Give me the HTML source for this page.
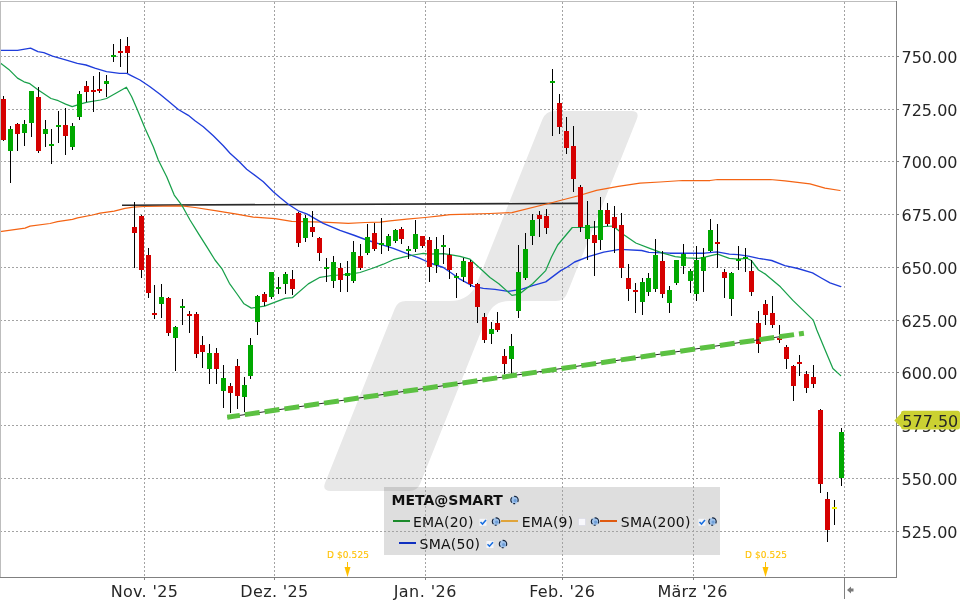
<!DOCTYPE html>
<html><head><meta charset="utf-8"><title>META@SMART</title>
<style>
html,body{margin:0;padding:0;background:#fff;width:960px;height:600px;overflow:hidden}
svg{display:block;will-change:transform}
.ax{font-family:"DejaVu Sans","Liberation Sans",sans-serif;font-size:16px;fill:#262626}
.lg{font-family:"DejaVu Sans","Liberation Sans",sans-serif;font-size:14px;fill:#111;letter-spacing:0.2px}
.lgb{font-family:"DejaVu Sans","Liberation Sans",sans-serif;font-size:14px;font-weight:bold;fill:#111}
.dv{font-family:"DejaVu Sans",sans-serif;font-size:9px;fill:#ffc000;stroke:#ffc000;stroke-width:0.1px;letter-spacing:0.12px}
</style></head><body>
<svg width="960" height="600" viewBox="0 0 960 600">
<rect x="0" y="0" width="960" height="600" fill="#fff"/>

<path d="M330.80 491.00 Q321.80 491.00 325.14 482.64 L394.83 308.43 Q397.80 301.00 405.80 301.00 L449.80 301.00 Q469.80 301.00 477.23 282.43 L542.46 119.36 Q545.80 111.00 554.80 111.00 L631.10 111.00 Q640.10 111.00 636.76 119.36 L567.07 293.57 Q564.10 301.00 556.10 301.00 L509.30 301.00 Q493.30 301.00 487.36 315.86 L420.27 483.57 Q417.30 491.00 409.30 491.00 Z" fill="#e8e8e8"/>
<rect x="384" y="487" width="336" height="68" fill="#000" fill-opacity="0.129"/>
<line x1="0" y1="56.5" x2="896" y2="56.5" stroke="#a3a3a3" stroke-width="1" stroke-dasharray="2 2"/>
<line x1="0" y1="109.5" x2="896" y2="109.5" stroke="#a3a3a3" stroke-width="1" stroke-dasharray="2 2"/>
<line x1="0" y1="161.5" x2="896" y2="161.5" stroke="#a3a3a3" stroke-width="1" stroke-dasharray="2 2"/>
<line x1="0" y1="214.5" x2="896" y2="214.5" stroke="#a3a3a3" stroke-width="1" stroke-dasharray="2 2"/>
<line x1="0" y1="267.5" x2="896" y2="267.5" stroke="#a3a3a3" stroke-width="1" stroke-dasharray="2 2"/>
<line x1="0" y1="320.5" x2="896" y2="320.5" stroke="#a3a3a3" stroke-width="1" stroke-dasharray="2 2"/>
<line x1="0" y1="372.5" x2="896" y2="372.5" stroke="#a3a3a3" stroke-width="1" stroke-dasharray="2 2"/>
<line x1="0" y1="425.5" x2="896" y2="425.5" stroke="#a3a3a3" stroke-width="1" stroke-dasharray="2 2"/>
<line x1="0" y1="478.5" x2="896" y2="478.5" stroke="#a3a3a3" stroke-width="1" stroke-dasharray="2 2"/>
<line x1="0" y1="531.5" x2="896" y2="531.5" stroke="#a3a3a3" stroke-width="1" stroke-dasharray="2 2"/>
<line x1="144.5" y1="2" x2="144.5" y2="577" stroke="#a3a3a3" stroke-width="1" stroke-dasharray="2 2"/>
<line x1="274.5" y1="2" x2="274.5" y2="577" stroke="#a3a3a3" stroke-width="1" stroke-dasharray="2 2"/>
<line x1="425.5" y1="2" x2="425.5" y2="577" stroke="#a3a3a3" stroke-width="1" stroke-dasharray="2 2"/>
<line x1="562.5" y1="2" x2="562.5" y2="577" stroke="#a3a3a3" stroke-width="1" stroke-dasharray="2 2"/>
<line x1="693.5" y1="2" x2="693.5" y2="577" stroke="#a3a3a3" stroke-width="1" stroke-dasharray="2 2"/>
<line x1="844.5" y1="2" x2="844.5" y2="577" stroke="#a3a3a3" stroke-width="1" stroke-dasharray="2 2"/>
<line x1="122" y1="205.2" x2="578" y2="203.4" stroke="#2a2a2a" stroke-width="1.6"/>
<polyline points="0.0,231.6 25.0,228.1 30.0,226.2 50.0,223.5 57.5,221.6 72.5,219.4 77.5,217.8 92.5,215.0 100.0,213.1 114.2,211.2 125.0,208.3 133.3,207.1 144.2,206.5 181.7,205.8 195.0,207.5 216.7,210.8 236.7,214.2 253.3,217.2 275.0,218.7 291.7,221.3 323.3,222.2 348.3,223.3 365.0,222.5 380.0,222.2 390.0,220.8 406.7,219.2 425.0,217.5 440.0,215.8 450.0,214.7 470.0,214.2 490.0,213.5 511.9,212.6 552.5,202.5 577.5,196.0 596.5,190.4 618.3,186.4 640.0,183.2 660.0,182.0 682.5,180.5 710.0,180.5 717.5,179.5 770.0,179.5 785.0,180.8 810.0,183.8 825.0,188.2 840.0,190.5" fill="none" stroke="#f46414" stroke-width="1.25" stroke-linejoin="round" stroke-linecap="round"/>
<polyline points="0.0,50.4 17.5,50.4 30.6,48.2 37.9,51.6 43.8,52.6 52.5,56.2 65.6,59.9 77.3,63.3 86.0,65.0 94.8,68.2 106.5,71.6 119.6,73.3 126.9,73.3 131.7,75.8 140.0,80.0 150.0,86.7 160.0,94.2 170.0,102.5 178.3,109.5 188.3,115.3 195.0,120.8 203.3,126.7 213.3,135.8 223.3,145.8 230.0,153.3 238.3,160.8 246.7,169.2 250.0,171.7 263.3,181.7 273.3,191.7 280.0,197.5 288.3,204.2 298.3,210.8 306.7,213.8 323.3,223.3 340.0,230.3 353.3,235.0 366.7,240.0 380.0,244.2 393.3,248.3 408.3,254.2 420.0,258.3 430.0,263.0 443.3,267.5 451.7,273.3 460.0,279.2 473.3,286.3 483.3,288.3 495.0,289.4 508.2,291.3 521.3,289.4 532.6,285.6 545.7,281.9 560.7,270.6 567.3,267.0 574.6,262.0 589.2,256.3 603.7,252.2 619.8,249.4 641.7,250.5 649.0,252.4 670.0,253.2 690.0,253.2 704.6,253.2 717.0,251.8 729.4,254.2 738.1,254.7 748.3,256.1 758.5,258.3 771.7,260.5 784.8,265.6 797.9,268.5 812.5,272.9 821.3,278.0 830.0,282.8 840.8,286.6" fill="none" stroke="#1f3ddb" stroke-width="1.35" stroke-linejoin="round" stroke-linecap="round"/>
<polyline points="0.0,62.8 8.8,69.4 17.5,78.1 24.0,81.8 29.9,83.7 37.9,89.8 51.0,98.5 58.3,100.7 65.6,104.1 72.2,106.6 81.7,103.6 87.5,102.2 100.6,100.0 106.5,98.5 116.7,92.7 126.4,87.2 131.7,96.7 136.7,108.3 145.0,128.3 153.3,146.7 158.3,160.0 166.7,176.7 174.2,195.0 181.7,205.0 190.0,220.0 198.3,233.3 206.7,246.7 215.0,260.0 222.0,268.8 229.4,283.3 236.7,293.5 244.0,303.8 251.3,308.1 264.6,306.2 285.0,298.4 292.3,297.7 308.3,283.9 320.0,277.3 331.7,275.5 340.0,275.0 350.0,274.2 360.0,272.5 373.3,268.0 383.3,264.2 393.3,259.7 403.3,257.2 413.3,255.0 423.3,253.3 428.3,254.2 443.3,253.7 450.0,254.7 460.0,256.3 470.0,259.2 480.0,268.3 490.0,277.5 498.8,283.8 511.9,295.4 519.4,294.1 532.6,283.8 545.7,270.6 551.5,257.0 557.7,245.0 572.3,227.5 590.0,227.3 613.0,226.0 624.2,235.0 635.8,243.0 650.4,248.6 662.0,252.8 675.2,256.6 686.9,257.8 698.8,258.3 706.0,256.9 711.9,255.4 717.7,254.2 729.4,258.3 738.1,259.1 746.9,258.3 751.3,260.5 758.5,270.0 765.8,274.4 780.4,286.8 792.9,300.4 813.3,320.1 816.8,330.0 824.6,348.8 832.9,368.5 840.7,375.6" fill="none" stroke="#18a04a" stroke-width="1.25" stroke-linejoin="round" stroke-linecap="round"/>
<rect x="3" y="96" width="1" height="45" fill="#000"/>
<rect x="1" y="99" width="5" height="41" fill="#d50000"/>
<rect x="10" y="126" width="1" height="57" fill="#000"/>
<rect x="8" y="129" width="5" height="22" fill="#00a800"/>
<rect x="17" y="123" width="1" height="28" fill="#000"/>
<rect x="15" y="124" width="5" height="10" fill="#d50000"/>
<rect x="24" y="120" width="1" height="26" fill="#000"/>
<rect x="22" y="124" width="5" height="9" fill="#00a800"/>
<rect x="31" y="91" width="1" height="46" fill="#000"/>
<rect x="29" y="91" width="5" height="32" fill="#00a800"/>
<rect x="38" y="87" width="1" height="66" fill="#000"/>
<rect x="36" y="97" width="5" height="54" fill="#d50000"/>
<rect x="45" y="120" width="1" height="27" fill="#000"/>
<rect x="43" y="129" width="5" height="5" fill="#00a800"/>
<rect x="51" y="129" width="1" height="35" fill="#000"/>
<rect x="49" y="144" width="5" height="2" fill="#00a800"/>
<rect x="58" y="111" width="1" height="32" fill="#000"/>
<rect x="56" y="125" width="5" height="2" fill="#00a800"/>
<rect x="65" y="108" width="1" height="47" fill="#000"/>
<rect x="63" y="125" width="5" height="11" fill="#d50000"/>
<rect x="72" y="123" width="1" height="27" fill="#000"/>
<rect x="70" y="126" width="5" height="21" fill="#00a800"/>
<rect x="79" y="91" width="1" height="29" fill="#000"/>
<rect x="77" y="94" width="5" height="23" fill="#00a800"/>
<rect x="86" y="81" width="1" height="21" fill="#000"/>
<rect x="84" y="86" width="5" height="6" fill="#d50000"/>
<rect x="93" y="76" width="1" height="36" fill="#000"/>
<rect x="91" y="90" width="5" height="2" fill="#d50000"/>
<rect x="99" y="72" width="1" height="21" fill="#000"/>
<rect x="97" y="89" width="5" height="2" fill="#d50000"/>
<rect x="106" y="75" width="1" height="22" fill="#000"/>
<rect x="104" y="81" width="5" height="3" fill="#00a800"/>
<rect x="113" y="44" width="1" height="18" fill="#000"/>
<rect x="111" y="55" width="5" height="2" fill="#00a800"/>
<rect x="120" y="39" width="1" height="28" fill="#000"/>
<rect x="118" y="51" width="5" height="2" fill="#d50000"/>
<rect x="127" y="37" width="1" height="36" fill="#000"/>
<rect x="125" y="46" width="5" height="7" fill="#d50000"/>
<rect x="134" y="202" width="1" height="66" fill="#000"/>
<rect x="132" y="227" width="5" height="6" fill="#d50000"/>
<rect x="141" y="215" width="1" height="63" fill="#000"/>
<rect x="139" y="216" width="5" height="54" fill="#d50000"/>
<rect x="148" y="248" width="1" height="50" fill="#000"/>
<rect x="146" y="255" width="5" height="38" fill="#d50000"/>
<rect x="154" y="285" width="1" height="34" fill="#000"/>
<rect x="152" y="313" width="5" height="2" fill="#d50000"/>
<rect x="161" y="284" width="1" height="34" fill="#000"/>
<rect x="159" y="297" width="5" height="7" fill="#00a800"/>
<rect x="168" y="297" width="1" height="39" fill="#000"/>
<rect x="166" y="298" width="5" height="35" fill="#d50000"/>
<rect x="175" y="326" width="1" height="45" fill="#000"/>
<rect x="173" y="327" width="5" height="11" fill="#00a800"/>
<rect x="182" y="299" width="1" height="26" fill="#000"/>
<rect x="180" y="306" width="5" height="2" fill="#00a800"/>
<rect x="189" y="311" width="1" height="22" fill="#000"/>
<rect x="187" y="314" width="5" height="2" fill="#d50000"/>
<rect x="196" y="312" width="1" height="46" fill="#000"/>
<rect x="194" y="314" width="5" height="40" fill="#d50000"/>
<rect x="202" y="336" width="1" height="32" fill="#000"/>
<rect x="200" y="345" width="5" height="7" fill="#d50000"/>
<rect x="209" y="344" width="1" height="40" fill="#000"/>
<rect x="207" y="353" width="5" height="16" fill="#00a800"/>
<rect x="216" y="348" width="1" height="36" fill="#000"/>
<rect x="214" y="353" width="5" height="16" fill="#d50000"/>
<rect x="223" y="365" width="1" height="43" fill="#000"/>
<rect x="221" y="378" width="5" height="13" fill="#00a800"/>
<rect x="230" y="383" width="1" height="30" fill="#000"/>
<rect x="228" y="386" width="5" height="7" fill="#d50000"/>
<rect x="237" y="359" width="1" height="50" fill="#000"/>
<rect x="235" y="366" width="5" height="30" fill="#d50000"/>
<rect x="244" y="377" width="1" height="35" fill="#000"/>
<rect x="242" y="385" width="5" height="12" fill="#00a800"/>
<rect x="250" y="338" width="1" height="41" fill="#000"/>
<rect x="248" y="345" width="5" height="31" fill="#00a800"/>
<rect x="257" y="295" width="1" height="40" fill="#000"/>
<rect x="255" y="296" width="5" height="26" fill="#00a800"/>
<rect x="264" y="292" width="1" height="14" fill="#000"/>
<rect x="262" y="294" width="5" height="8" fill="#d50000"/>
<rect x="271" y="272" width="1" height="27" fill="#000"/>
<rect x="269" y="272" width="5" height="25" fill="#00a800"/>
<rect x="278" y="277" width="1" height="17" fill="#000"/>
<rect x="276" y="287" width="5" height="2" fill="#00a800"/>
<rect x="285" y="272" width="1" height="22" fill="#000"/>
<rect x="283" y="274" width="5" height="10" fill="#00a800"/>
<rect x="292" y="270" width="1" height="25" fill="#000"/>
<rect x="290" y="279" width="5" height="10" fill="#d50000"/>
<rect x="298" y="212" width="1" height="35" fill="#000"/>
<rect x="296" y="213" width="5" height="30" fill="#d50000"/>
<rect x="305" y="215" width="1" height="27" fill="#000"/>
<rect x="303" y="218" width="5" height="20" fill="#00a800"/>
<rect x="312" y="211" width="1" height="26" fill="#000"/>
<rect x="310" y="227" width="5" height="5" fill="#d50000"/>
<rect x="319" y="237" width="1" height="24" fill="#000"/>
<rect x="317" y="238" width="5" height="15" fill="#d50000"/>
<rect x="326" y="258" width="1" height="24" fill="#000"/>
<rect x="324" y="267" width="5" height="2" fill="#00a800"/>
<rect x="333" y="256" width="1" height="32" fill="#000"/>
<rect x="331" y="262" width="5" height="19" fill="#00a800"/>
<rect x="340" y="263" width="1" height="29" fill="#000"/>
<rect x="338" y="268" width="5" height="12" fill="#d50000"/>
<rect x="347" y="261" width="1" height="31" fill="#000"/>
<rect x="345" y="273" width="5" height="3" fill="#00a800"/>
<rect x="353" y="241" width="1" height="42" fill="#000"/>
<rect x="351" y="252" width="5" height="29" fill="#00a800"/>
<rect x="360" y="244" width="1" height="26" fill="#000"/>
<rect x="358" y="256" width="5" height="12" fill="#d50000"/>
<rect x="367" y="224" width="1" height="31" fill="#000"/>
<rect x="365" y="237" width="5" height="16" fill="#00a800"/>
<rect x="374" y="223" width="1" height="28" fill="#000"/>
<rect x="372" y="233" width="5" height="16" fill="#d50000"/>
<rect x="381" y="218" width="1" height="36" fill="#000"/>
<rect x="379" y="243" width="5" height="2" fill="#00a800"/>
<rect x="388" y="234" width="1" height="17" fill="#000"/>
<rect x="386" y="236" width="5" height="10" fill="#00a800"/>
<rect x="395" y="229" width="1" height="14" fill="#000"/>
<rect x="393" y="230" width="5" height="11" fill="#00a800"/>
<rect x="401" y="227" width="1" height="17" fill="#000"/>
<rect x="399" y="229" width="5" height="10" fill="#d50000"/>
<rect x="408" y="246" width="1" height="13" fill="#000"/>
<rect x="406" y="249" width="5" height="2" fill="#00a800"/>
<rect x="415" y="220" width="1" height="32" fill="#000"/>
<rect x="413" y="234" width="5" height="15" fill="#00a800"/>
<rect x="422" y="236" width="1" height="12" fill="#000"/>
<rect x="420" y="236" width="5" height="10" fill="#d50000"/>
<rect x="429" y="237" width="1" height="45" fill="#000"/>
<rect x="427" y="240" width="5" height="27" fill="#d50000"/>
<rect x="436" y="237" width="1" height="36" fill="#000"/>
<rect x="434" y="249" width="5" height="16" fill="#00a800"/>
<rect x="443" y="235" width="1" height="29" fill="#000"/>
<rect x="441" y="245" width="5" height="2" fill="#00a800"/>
<rect x="449" y="248" width="1" height="31" fill="#000"/>
<rect x="447" y="255" width="5" height="15" fill="#d50000"/>
<rect x="456" y="273" width="1" height="25" fill="#000"/>
<rect x="454" y="276" width="5" height="2" fill="#00a800"/>
<rect x="463" y="258" width="1" height="24" fill="#000"/>
<rect x="461" y="261" width="5" height="16" fill="#00a800"/>
<rect x="470" y="260" width="1" height="27" fill="#000"/>
<rect x="468" y="262" width="5" height="22" fill="#d50000"/>
<rect x="477" y="283" width="1" height="40" fill="#000"/>
<rect x="475" y="284" width="5" height="23" fill="#d50000"/>
<rect x="484" y="313" width="1" height="30" fill="#000"/>
<rect x="482" y="317" width="5" height="23" fill="#d50000"/>
<rect x="491" y="322" width="1" height="22" fill="#000"/>
<rect x="489" y="329" width="5" height="5" fill="#00a800"/>
<rect x="497" y="312" width="1" height="20" fill="#000"/>
<rect x="495" y="323" width="5" height="7" fill="#d50000"/>
<rect x="504" y="349" width="1" height="25" fill="#000"/>
<rect x="502" y="356" width="5" height="8" fill="#d50000"/>
<rect x="511" y="334" width="1" height="40" fill="#000"/>
<rect x="509" y="346" width="5" height="13" fill="#00a800"/>
<rect x="518" y="245" width="1" height="73" fill="#000"/>
<rect x="516" y="272" width="5" height="39" fill="#00a800"/>
<rect x="525" y="233" width="1" height="47" fill="#000"/>
<rect x="523" y="249" width="5" height="29" fill="#00a800"/>
<rect x="532" y="214" width="1" height="31" fill="#000"/>
<rect x="530" y="220" width="5" height="16" fill="#00a800"/>
<rect x="539" y="211" width="1" height="26" fill="#000"/>
<rect x="537" y="215" width="5" height="4" fill="#d50000"/>
<rect x="546" y="209" width="1" height="25" fill="#000"/>
<rect x="544" y="216" width="5" height="12" fill="#d50000"/>
<rect x="552" y="69" width="1" height="67" fill="#000"/>
<rect x="550" y="81" width="5" height="2" fill="#00a800"/>
<rect x="559" y="94" width="1" height="40" fill="#000"/>
<rect x="557" y="103" width="5" height="24" fill="#d50000"/>
<rect x="566" y="117" width="1" height="37" fill="#000"/>
<rect x="564" y="131" width="5" height="17" fill="#d50000"/>
<rect x="573" y="126" width="1" height="66" fill="#000"/>
<rect x="571" y="146" width="5" height="33" fill="#d50000"/>
<rect x="580" y="185" width="1" height="47" fill="#000"/>
<rect x="578" y="187" width="5" height="40" fill="#d50000"/>
<rect x="587" y="201" width="1" height="59" fill="#000"/>
<rect x="585" y="225" width="5" height="14" fill="#00a800"/>
<rect x="594" y="221" width="1" height="55" fill="#000"/>
<rect x="592" y="235" width="5" height="8" fill="#d50000"/>
<rect x="600" y="197" width="1" height="53" fill="#000"/>
<rect x="598" y="210" width="5" height="30" fill="#00a800"/>
<rect x="607" y="203" width="1" height="23" fill="#000"/>
<rect x="605" y="210" width="5" height="14" fill="#d50000"/>
<rect x="614" y="206" width="1" height="47" fill="#000"/>
<rect x="612" y="217" width="5" height="11" fill="#d50000"/>
<rect x="621" y="213" width="1" height="65" fill="#000"/>
<rect x="619" y="225" width="5" height="43" fill="#d50000"/>
<rect x="628" y="264" width="1" height="37" fill="#000"/>
<rect x="626" y="278" width="5" height="11" fill="#d50000"/>
<rect x="635" y="283" width="1" height="30" fill="#000"/>
<rect x="633" y="290" width="5" height="2" fill="#d50000"/>
<rect x="642" y="278" width="1" height="37" fill="#000"/>
<rect x="640" y="282" width="5" height="20" fill="#00a800"/>
<rect x="648" y="273" width="1" height="23" fill="#000"/>
<rect x="646" y="278" width="5" height="14" fill="#00a800"/>
<rect x="655" y="239" width="1" height="53" fill="#000"/>
<rect x="653" y="255" width="5" height="34" fill="#00a800"/>
<rect x="662" y="251" width="1" height="47" fill="#000"/>
<rect x="660" y="261" width="5" height="33" fill="#d50000"/>
<rect x="669" y="286" width="1" height="27" fill="#000"/>
<rect x="667" y="290" width="5" height="13" fill="#00a800"/>
<rect x="676" y="260" width="1" height="25" fill="#000"/>
<rect x="674" y="260" width="5" height="23" fill="#00a800"/>
<rect x="683" y="244" width="1" height="30" fill="#000"/>
<rect x="681" y="254" width="5" height="12" fill="#00a800"/>
<rect x="690" y="269" width="1" height="24" fill="#000"/>
<rect x="688" y="271" width="5" height="10" fill="#00a800"/>
<rect x="696" y="246" width="1" height="55" fill="#000"/>
<rect x="694" y="260" width="5" height="34" fill="#00a800"/>
<rect x="703" y="248" width="1" height="44" fill="#000"/>
<rect x="701" y="257" width="5" height="14" fill="#00a800"/>
<rect x="710" y="219" width="1" height="33" fill="#000"/>
<rect x="708" y="230" width="5" height="21" fill="#00a800"/>
<rect x="717" y="224" width="1" height="44" fill="#000"/>
<rect x="715" y="242" width="5" height="2" fill="#d50000"/>
<rect x="724" y="269" width="1" height="29" fill="#000"/>
<rect x="722" y="272" width="5" height="6" fill="#d50000"/>
<rect x="731" y="272" width="1" height="44" fill="#000"/>
<rect x="729" y="273" width="5" height="26" fill="#00a800"/>
<rect x="738" y="246" width="1" height="24" fill="#000"/>
<rect x="736" y="259" width="5" height="2" fill="#00a800"/>
<rect x="745" y="248" width="1" height="24" fill="#000"/>
<rect x="743" y="257" width="5" height="2" fill="#00a800"/>
<rect x="751" y="260" width="1" height="36" fill="#000"/>
<rect x="749" y="271" width="5" height="21" fill="#d50000"/>
<rect x="758" y="311" width="1" height="42" fill="#000"/>
<rect x="756" y="323" width="5" height="21" fill="#d50000"/>
<rect x="765" y="300" width="1" height="25" fill="#000"/>
<rect x="763" y="304" width="5" height="11" fill="#d50000"/>
<rect x="772" y="296" width="1" height="32" fill="#000"/>
<rect x="770" y="313" width="5" height="12" fill="#d50000"/>
<rect x="779" y="325" width="1" height="18" fill="#000"/>
<rect x="777" y="338" width="5" height="2" fill="#d50000"/>
<rect x="786" y="345" width="1" height="24" fill="#000"/>
<rect x="784" y="347" width="5" height="12" fill="#d50000"/>
<rect x="793" y="365" width="1" height="36" fill="#000"/>
<rect x="791" y="366" width="5" height="20" fill="#d50000"/>
<rect x="799" y="355" width="1" height="21" fill="#000"/>
<rect x="797" y="362" width="5" height="2" fill="#d50000"/>
<rect x="806" y="371" width="1" height="22" fill="#000"/>
<rect x="804" y="374" width="5" height="14" fill="#d50000"/>
<rect x="813" y="365" width="1" height="23" fill="#000"/>
<rect x="811" y="377" width="5" height="7" fill="#d50000"/>
<rect x="820" y="409" width="1" height="84" fill="#000"/>
<rect x="818" y="410" width="5" height="74" fill="#d50000"/>
<rect x="827" y="492" width="1" height="50" fill="#000"/>
<rect x="825" y="499" width="5" height="31" fill="#d50000"/>
<rect x="834" y="500" width="1" height="25" fill="#000"/>
<rect x="832" y="507" width="5" height="2" fill="#f0f000"/>
<rect x="841" y="428" width="1" height="58" fill="#000"/>
<rect x="839" y="432" width="5" height="46" fill="#00a800"/>
<line x1="227.2" y1="417.2" x2="793" y2="334.79" stroke="#222" stroke-width="1"/>
<line x1="227.2" y1="417.2" x2="803.9" y2="333.2" stroke="#5cc142" stroke-width="5" stroke-dasharray="15 5" stroke-dashoffset="2.2"/>
<rect x="0" y="1" width="896" height="1" fill="#bdbdbd"/>
<rect x="0" y="1" width="1" height="577" fill="#bdbdbd"/>
<rect x="896" y="1" width="1" height="577" fill="#808080"/>
<rect x="0" y="577" width="897" height="1" fill="#808080"/>
<rect x="897" y="56" width="2" height="1" fill="#808080"/>
<text class="ax" x="901.5" y="63.0">750.00</text>
<rect x="897" y="109" width="2" height="1" fill="#808080"/>
<text class="ax" x="901.5" y="116.0">725.00</text>
<rect x="897" y="161" width="2" height="1" fill="#808080"/>
<text class="ax" x="901.5" y="168.0">700.00</text>
<rect x="897" y="214" width="2" height="1" fill="#808080"/>
<text class="ax" x="901.5" y="221.0">675.00</text>
<rect x="897" y="267" width="2" height="1" fill="#808080"/>
<text class="ax" x="901.5" y="274.0">650.00</text>
<rect x="897" y="320" width="2" height="1" fill="#808080"/>
<text class="ax" x="901.5" y="327.0">625.00</text>
<rect x="897" y="372" width="2" height="1" fill="#808080"/>
<text class="ax" x="901.5" y="379.0">600.00</text>
<rect x="897" y="425" width="2" height="1" fill="#808080"/>
<text class="ax" x="901.5" y="432.0">575.00</text>
<rect x="897" y="478" width="2" height="1" fill="#808080"/>
<text class="ax" x="901.5" y="485.0">550.00</text>
<rect x="897" y="531" width="2" height="1" fill="#808080"/>
<text class="ax" x="901.5" y="538.0">525.00</text>
<rect x="144" y="578" width="1" height="2" fill="#808080"/>
<text class="ax" x="144.41" y="597" text-anchor="middle" letter-spacing="0.33">Nov. '25</text>
<rect x="274" y="578" width="1" height="2" fill="#808080"/>
<text class="ax" x="274.42" y="597" text-anchor="middle" letter-spacing="0.33">Dez. '25</text>
<rect x="425" y="578" width="1" height="2" fill="#808080"/>
<text class="ax" x="425.23" y="597" text-anchor="middle" letter-spacing="0.45">Jan. '26</text>
<rect x="562" y="578" width="1" height="2" fill="#808080"/>
<text class="ax" x="562.29" y="597" text-anchor="middle" letter-spacing="0.38">Feb. '26</text>
<rect x="693" y="578" width="1" height="2" fill="#808080"/>
<text class="ax" x="692.60" y="597" text-anchor="middle" letter-spacing="0.20">März '26</text>
<rect x="844" y="578" width="1" height="21" fill="#808080"/>
<path d="M847 590 L851 586.5 L851 588.5 L853.5 588.5 L853.5 591.5 L851 591.5 L851 593.5 Z" fill="#7a7a7a"/>
<text class="dv" x="326.9" y="558">D $0.525</text>
<rect x="347.0" y="562" width="1" height="6" fill="#ffc000"/>
<path d="M344.5 567 L350.5 567 L347.5 577 Z" fill="#ffc000"/>
<text class="dv" x="744.9" y="558">D $0.525</text>
<rect x="765.0" y="562" width="1" height="6" fill="#ffc000"/>
<path d="M762.5 567 L768.5 567 L765.5 577 Z" fill="#ffc000"/>
<path d="M894.3 420.4 L901 413.5 L901 413 Q901 410.8 903.5 410.8 L957.5 410.8 Q960 410.8 960 413.3 L960 427.3 Q960 429.6 957.5 429.6 L903.5 429.6 Q901 429.6 901 427.3 L901 427.3 Z" fill="#cbd132"/>
<text class="ax" x="902.3" y="426.8" fill="#111">577.50</text>
<text class="lgb" x="391.5" y="505">META@SMART</text>
<circle cx="514.5" cy="500.0" r="3.7" fill="#a0c2ea"/><circle cx="515.1" cy="500.6" r="1.6" fill="#6f9fd8"/><circle cx="514.5" cy="500.0" r="3.7" fill="none" stroke="#14233a" stroke-width="1.15" stroke-dasharray="2.0 3.0 2.0 1.4 5.8 2.4 7.8 0"/>
<rect x="393" y="520" width="17" height="2" fill="#1a8a2a"/>
<text class="lg" x="413" y="526.5">EMA(20)</text>
<rect x="479.5" y="518.8" width="7" height="7" fill="#f4f6fa"/><path d="M480.5 522.0 l2 2 l3.5 -4" stroke="#1a6fe0" stroke-width="1.6" fill="none"/>
<circle cx="496.0" cy="521.5" r="3.7" fill="#a0c2ea"/><circle cx="496.6" cy="522.1" r="1.6" fill="#6f9fd8"/><circle cx="496.0" cy="521.5" r="3.7" fill="none" stroke="#14233a" stroke-width="1.15" stroke-dasharray="2.0 3.0 2.0 1.4 5.8 2.4 7.8 0"/>
<rect x="501" y="520" width="17" height="2" fill="#e0a43a"/>
<text class="lg" x="521.8" y="526.5">EMA(9)</text>
<rect x="578.5" y="518.5" width="7" height="7" fill="#f8f8fc" stroke="#d8d8e4" stroke-width="0.6"/>
<circle cx="595.0" cy="521.5" r="3.7" fill="#a0c2ea"/><circle cx="595.6" cy="522.1" r="1.6" fill="#6f9fd8"/><circle cx="595.0" cy="521.5" r="3.7" fill="none" stroke="#14233a" stroke-width="1.15" stroke-dasharray="2.0 3.0 2.0 1.4 5.8 2.4 7.8 0"/>
<rect x="600" y="520" width="17" height="2" fill="#e05a10"/>
<text class="lg" x="620.8" y="526.5">SMA(200)</text>
<rect x="698.5" y="518.8" width="7" height="7" fill="#f4f6fa"/><path d="M699.5 522.0 l2 2 l3.5 -4" stroke="#1a6fe0" stroke-width="1.6" fill="none"/>
<circle cx="712.5" cy="521.5" r="3.7" fill="#a0c2ea"/><circle cx="713.1" cy="522.1" r="1.6" fill="#6f9fd8"/><circle cx="712.5" cy="521.5" r="3.7" fill="none" stroke="#14233a" stroke-width="1.15" stroke-dasharray="2.0 3.0 2.0 1.4 5.8 2.4 7.8 0"/>
<rect x="399" y="542" width="17" height="2" fill="#1030c0"/>
<text class="lg" x="419.6" y="548.5">SMA(50)</text>
<rect x="486.5" y="541.0" width="7" height="7" fill="#f4f6fa"/><path d="M487.5 544.2 l2 2 l3.5 -4" stroke="#1a6fe0" stroke-width="1.6" fill="none"/>
<circle cx="503.0" cy="544.0" r="3.7" fill="#a0c2ea"/><circle cx="503.6" cy="544.6" r="1.6" fill="#6f9fd8"/><circle cx="503.0" cy="544.0" r="3.7" fill="none" stroke="#14233a" stroke-width="1.15" stroke-dasharray="2.0 3.0 2.0 1.4 5.8 2.4 7.8 0"/>
</svg>
</body></html>
